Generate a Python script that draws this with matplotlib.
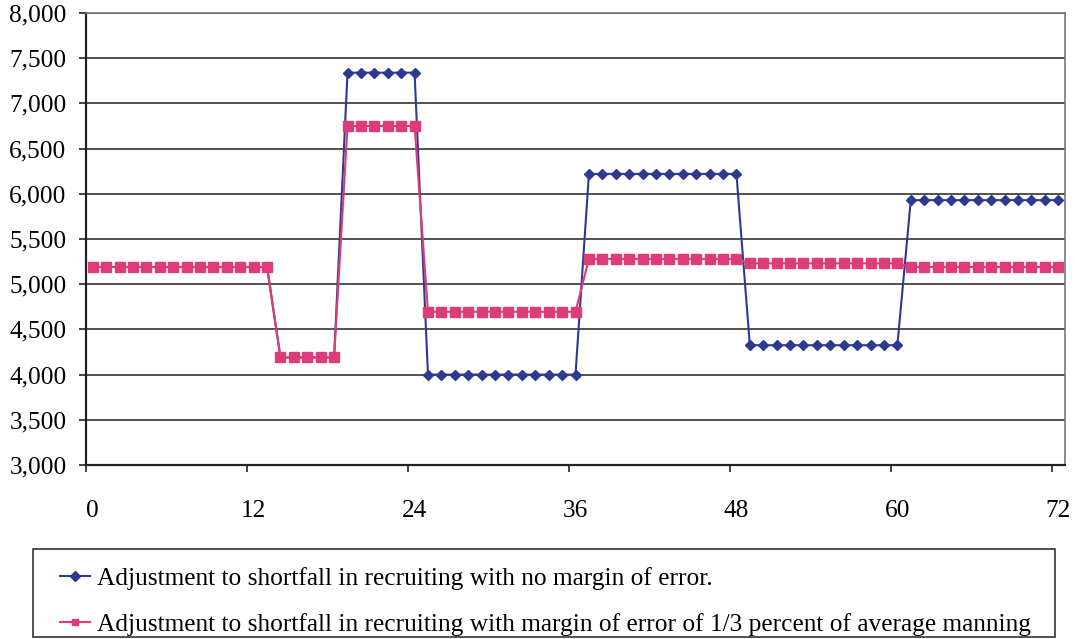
import matplotlib
matplotlib.use("Agg")
import matplotlib.pyplot as plt
from matplotlib.ticker import FixedLocator, FuncFormatter
from matplotlib.patches import Rectangle

months = list(range(73))

no_margin = [
    5190, 5190, 5190, 5190, 5190, 5190, 5190, 5190, 5190, 5190, 5190, 5190, 5190, 5190,
    4190, 4190, 4190, 4190, 4190,
    7340, 7340, 7340, 7340, 7340, 7340,
    4000, 4000, 4000, 4000, 4000, 4000, 4000, 4000, 4000, 4000, 4000, 4000,
    6220, 6220, 6220, 6220, 6220, 6220, 6220, 6220, 6220, 6220, 6220, 6220,
    4325, 4325, 4325, 4325, 4325, 4325, 4325, 4325, 4325, 4325, 4325, 4325,
    5930, 5930, 5930, 5930, 5930, 5930, 5930, 5930, 5930, 5930, 5930, 5930,
]

with_margin = [
    5190, 5190, 5190, 5190, 5190, 5190, 5190, 5190, 5190, 5190, 5190, 5190, 5190, 5190,
    4190, 4190, 4190, 4190, 4190,
    6750, 6750, 6750, 6750, 6750, 6750,
    4695, 4695, 4695, 4695, 4695, 4695, 4695, 4695, 4695, 4695, 4695, 4695,
    5280, 5280, 5280, 5280, 5280, 5280, 5280, 5280, 5280, 5280, 5280, 5280,
    5230, 5230, 5230, 5230, 5230, 5230, 5230, 5230, 5230, 5230, 5230, 5230,
    5190, 5190, 5190, 5190, 5190, 5190, 5190, 5190, 5190, 5190, 5190, 5190,
]

x_labels = [0, 12, 24, 36, 48, 60, 72]
y_ticks = [3000, 3500, 4000, 4500, 5000, 5500, 6000, 6500, 7000, 7500, 8000]

label_no = "Adjustment to shortfall in recruiting with no margin of error."
label_with = "Adjustment to shortfall in recruiting with margin of error of 1/3 percent of average manning"

plt.rcParams['font.family'] = ['Liberation Serif', 'DejaVu Serif']

BLUE = '#2E3A90'
PINK = '#DE3C78'
FS = 18.3

fig = plt.figure(figsize=(10.75, 6.39), dpi=100)
ax = fig.add_axes([86/1075, 1 - 465/639, (1065-86)/1075, (465-13)/639])

ax.plot(months, no_margin, color=BLUE, lw=1.5, marker='D', ms=5.5,
        mfc=BLUE, mec=BLUE, label=label_no, zorder=3)
ax.plot(months, with_margin, color=PINK, lw=1.5, marker='s', ms=7,
        mfc=PINK, mec=PINK, label=label_with, zorder=4)

ax.set_xlim(-0.5, 72.5)
ax.set_ylim(3000, 8000)

# category boundary ticks (major) and centred labels (minor)
boundaries = [v - 0.5 for v in x_labels]
ax.xaxis.set_major_locator(FixedLocator(boundaries))
ax.xaxis.set_major_formatter(FuncFormatter(lambda v, p: ""))
ax.xaxis.set_minor_locator(FixedLocator(x_labels))
ax.xaxis.set_minor_formatter(FuncFormatter(lambda v, p: f"{int(round(v))}"))
ax.tick_params(axis='x', which='major', direction='out', length=5, width=1.2, color='#222222')
ax.tick_params(axis='x', which='minor', length=0, pad=25, labelsize=FS)

ax.set_yticks(y_ticks)
ax.yaxis.set_major_formatter(FuncFormatter(lambda v, p: f"{int(v):,}"))
ax.tick_params(axis='y', direction='out', length=5, width=1.2, color='#222222', pad=9, labelsize=FS)

ax.yaxis.grid(True, color='#333333', lw=1.2)
ax.set_axisbelow(True)

for side in ['left', 'bottom']:
    ax.spines[side].set_color('#222222')
    ax.spines[side].set_linewidth(1.6)
for side in ['top', 'right']:
    ax.spines[side].set_color('#777777')
    ax.spines[side].set_linewidth(1.2)

# legend border drawn as a figure rectangle
fig.patches.append(Rectangle((33/1075, 1 - 637/639), (1055-33)/1075, (637-549)/639,
                             transform=fig.transFigure, fill=False,
                             edgecolor='#333333', lw=1.2))

leg = fig.legend(loc='upper left', bbox_to_anchor=(60/1075, 1 - 567/639),
                 borderaxespad=0, borderpad=0, fontsize=FS,
                 handlelength=1.17, handletextpad=0.28, labelspacing=0.9,
                 frameon=False)
for h in leg.legend_handles:
    h.set_markersize(5)

fig.savefig('out.png', dpi=100)
